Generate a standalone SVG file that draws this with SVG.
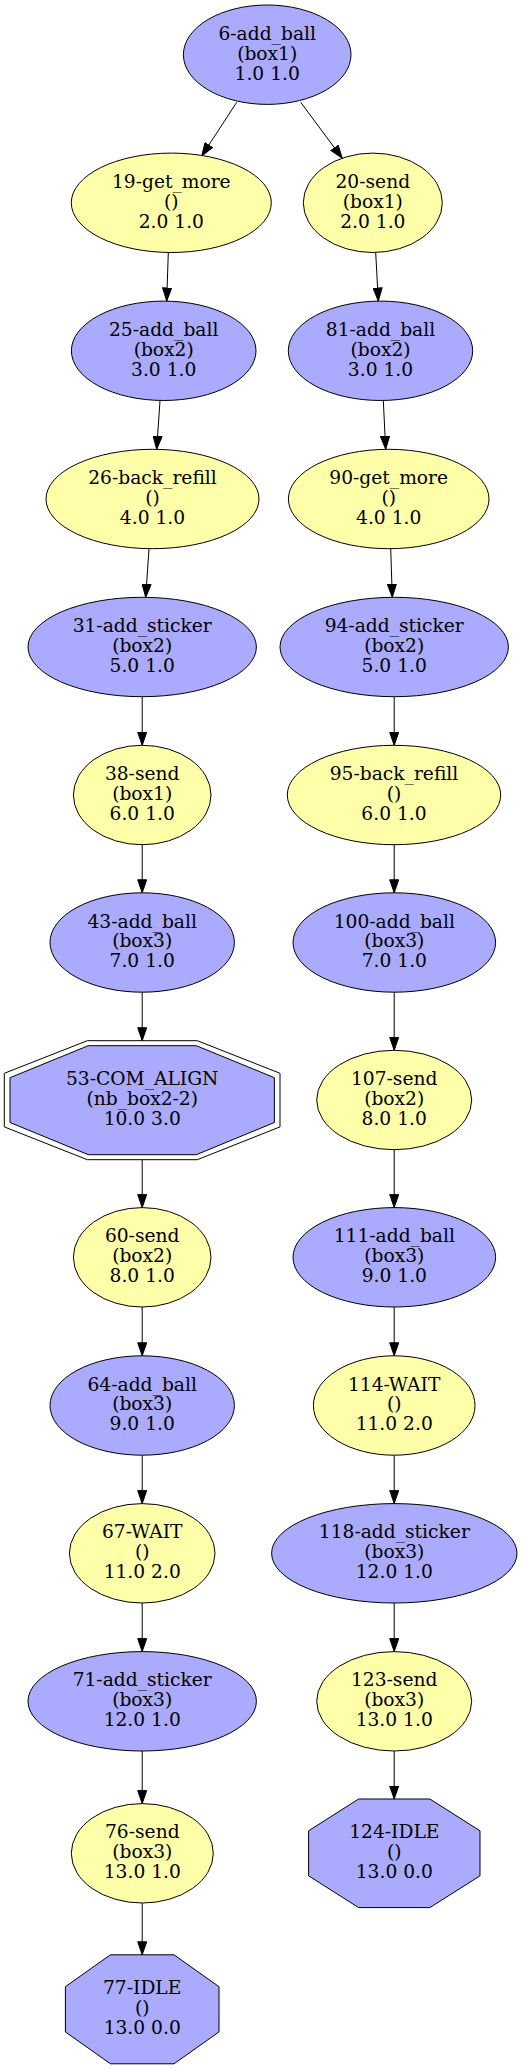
<svg xmlns="http://www.w3.org/2000/svg" width="522" height="2069" viewBox="0 0 522 2069">
<style>
.b{fill:#aaaaff;stroke:#000;stroke-width:1}
.y{fill:#ffffaa;stroke:#000;stroke-width:1}
.o{fill:none;stroke:#000;stroke-width:1}
text{font-family:"DejaVu Serif","Liberation Serif",serif;font-size:18.67px;text-anchor:middle;fill:#000}
.e line{stroke:#000;stroke-width:1;marker-end:url(#ah)}
</style>
<defs>
<marker id="ah" viewBox="0 0 14 10" refX="13.5" refY="5" markerWidth="14" markerHeight="10" markerUnits="userSpaceOnUse" orient="auto">
<path d="M0.5,0.5 L13.5,5 L0.5,9.5 Z" fill="#000" stroke="#000" stroke-width="1"/>
</marker>
</defs>
<rect width="522" height="2069" fill="#fff"/>
<g id="edges" class="e">
<line x1="236.7" y1="102.3" x2="201.7" y2="156"/>
<line x1="300.7" y1="102.3" x2="342.3" y2="158.3"/>
<line x1="168.3" y1="252.5" x2="166.7" y2="301"/>
<line x1="375.7" y1="252.5" x2="378.3" y2="301"/>
<line x1="160" y1="400.5" x2="156.7" y2="449.3"/>
<line x1="383.3" y1="400.5" x2="385.7" y2="449.3"/>
<line x1="149" y1="548.7" x2="145.7" y2="597.3"/>
<line x1="390.7" y1="548.7" x2="392.3" y2="597.3"/>
<line x1="142.2" y1="696.7" x2="142.2" y2="745.3"/>
<line x1="394.2" y1="696.7" x2="394.2" y2="745.3"/>
<line x1="142.2" y1="844.7" x2="142.2" y2="892.8"/>
<line x1="394.2" y1="844.7" x2="394.2" y2="892.8"/>
<line x1="142.2" y1="992.2" x2="142.2" y2="1040.7"/>
<line x1="394.2" y1="992.2" x2="394.2" y2="1050.3"/>
<line x1="142.2" y1="1159.7" x2="142.2" y2="1207.6"/>
<line x1="394.2" y1="1149.7" x2="394.2" y2="1207.6"/>
<line x1="142.2" y1="1307" x2="142.2" y2="1355.8"/>
<line x1="394.2" y1="1307" x2="394.2" y2="1355.8"/>
<line x1="142.2" y1="1455.2" x2="142.2" y2="1503.6"/>
<line x1="394.2" y1="1455.2" x2="394.2" y2="1503.6"/>
<line x1="142.2" y1="1603" x2="142.2" y2="1651.6"/>
<line x1="394.2" y1="1603" x2="394.2" y2="1651.6"/>
<line x1="142.2" y1="1751" x2="142.2" y2="1803.6"/>
<line x1="394.2" y1="1751" x2="394.2" y2="1799"/>
<line x1="142.2" y1="1903" x2="142.2" y2="1954.8"/>
</g>
<g id="n6"><ellipse class="b" cx="267.2" cy="54.7" rx="83.8" ry="49.7"/><text x="267.2" y="39.7">6-add_ball</text><text x="267.2" y="59.5">(box1)</text><text x="267.2" y="79.5">1.0 1.0</text></g>
<g id="n19"><ellipse class="y" cx="171.3" cy="202.8" rx="100" ry="49.7"/><text x="171.3" y="187.8">19-get_more</text><text x="171.3" y="207.6">()</text><text x="171.3" y="227.6">2.0 1.0</text></g>
<g id="n20"><ellipse class="y" cx="372.8" cy="202.8" rx="69.5" ry="49.7"/><text x="372.8" y="187.8">20-send</text><text x="372.8" y="207.6">(box1)</text><text x="372.8" y="227.6">2.0 1.0</text></g>
<g id="n25"><ellipse class="b" cx="163.7" cy="350.8" rx="92.3" ry="49.7"/><text x="163.7" y="335.8">25-add_ball</text><text x="163.7" y="355.6">(box2)</text><text x="163.7" y="375.6">3.0 1.0</text></g>
<g id="n81"><ellipse class="b" cx="380.5" cy="350.8" rx="92.2" ry="49.7"/><text x="380.5" y="335.8">81-add_ball</text><text x="380.5" y="355.6">(box2)</text><text x="380.5" y="375.6">3.0 1.0</text></g>
<g id="n26"><ellipse class="y" cx="152.5" cy="499" rx="106.5" ry="49.7"/><text x="152.5" y="484">26-back_refill</text><text x="152.5" y="503.8">()</text><text x="152.5" y="523.8">4.0 1.0</text></g>
<g id="n90"><ellipse class="y" cx="388.7" cy="499" rx="100.3" ry="49.7"/><text x="388.7" y="484">90-get_more</text><text x="388.7" y="503.8">()</text><text x="388.7" y="523.8">4.0 1.0</text></g>
<g id="n31"><ellipse class="b" cx="142.2" cy="647" rx="114.2" ry="49.7"/><text x="142.2" y="632">31-add_sticker</text><text x="142.2" y="651.8">(box2)</text><text x="142.2" y="671.8">5.0 1.0</text></g>
<g id="n94"><ellipse class="b" cx="394.2" cy="647" rx="114.2" ry="49.7"/><text x="394.2" y="632">94-add_sticker</text><text x="394.2" y="651.8">(box2)</text><text x="394.2" y="671.8">5.0 1.0</text></g>
<g id="n38"><ellipse class="y" cx="142.2" cy="795" rx="68.8" ry="49.7"/><text x="142.2" y="780">38-send</text><text x="142.2" y="799.8">(box1)</text><text x="142.2" y="819.8">6.0 1.0</text></g>
<g id="n95"><ellipse class="y" cx="394" cy="795" rx="106.7" ry="49.7"/><text x="394" y="780">95-back_refill</text><text x="394" y="799.8">()</text><text x="394" y="819.8">6.0 1.0</text></g>
<g id="n43"><ellipse class="b" cx="142.2" cy="942.5" rx="92.2" ry="49.7"/><text x="142.2" y="927.5">43-add_ball</text><text x="142.2" y="947.3">(box3)</text><text x="142.2" y="967.3">7.0 1.0</text></g>
<g id="n100"><ellipse class="b" cx="394.3" cy="942.5" rx="101.3" ry="49.7"/><text x="394.3" y="927.5">100-add_ball</text><text x="394.3" y="947.3">(box3)</text><text x="394.3" y="967.3">7.0 1.0</text></g>
<g id="n53"><polygon class="b" points="10,1077.7 88.3,1045.7 196.3,1045.7 274.4,1077.7 274.4,1122.5 196.3,1154.7 88.3,1154.7 10,1122.5"/><polygon class="o" points="4.3,1073.3 87.3,1040.7 197.3,1040.7 280,1073.3 280,1126.9 197.3,1159.7 87.3,1159.7 4.3,1126.9"/><text x="142.2" y="1085.2">53-COM_ALIGN</text><text x="142.2" y="1105">(nb_box2-2)</text><text x="142.2" y="1125">10.0 3.0</text></g>
<g id="n107"><ellipse class="y" cx="394.2" cy="1100" rx="77.5" ry="49.7"/><text x="394.2" y="1085">107-send</text><text x="394.2" y="1104.8">(box2)</text><text x="394.2" y="1124.8">8.0 1.0</text></g>
<g id="n60"><ellipse class="y" cx="142.2" cy="1257.3" rx="68.8" ry="49.7"/><text x="142.2" y="1242.3">60-send</text><text x="142.2" y="1262.1">(box2)</text><text x="142.2" y="1282.1">8.0 1.0</text></g>
<g id="n111"><ellipse class="b" cx="394.3" cy="1257.3" rx="101.3" ry="49.7"/><text x="394.3" y="1242.3">111-add_ball</text><text x="394.3" y="1262.1">(box3)</text><text x="394.3" y="1282.1">9.0 1.0</text></g>
<g id="n64"><ellipse class="b" cx="142.2" cy="1405.5" rx="92.2" ry="49.7"/><text x="142.2" y="1390.5">64-add_ball</text><text x="142.2" y="1410.3">(box3)</text><text x="142.2" y="1430.3">9.0 1.0</text></g>
<g id="n114"><ellipse class="y" cx="394.2" cy="1405.5" rx="80.8" ry="49.7"/><text x="394.2" y="1390.5">114-WAIT</text><text x="394.2" y="1410.3">()</text><text x="394.2" y="1430.3">11.0 2.0</text></g>
<g id="n67"><ellipse class="y" cx="142.2" cy="1553.3" rx="72.8" ry="49.7"/><text x="142.2" y="1538.3">67-WAIT</text><text x="142.2" y="1558.1">()</text><text x="142.2" y="1578.1">11.0 2.0</text></g>
<g id="n118"><ellipse class="b" cx="394.3" cy="1553.3" rx="122.7" ry="49.7"/><text x="394.3" y="1538.3">118-add_sticker</text><text x="394.3" y="1558.1">(box3)</text><text x="394.3" y="1578.1">12.0 1.0</text></g>
<g id="n71"><ellipse class="b" cx="142.2" cy="1701.3" rx="114.2" ry="49.7"/><text x="142.2" y="1686.3">71-add_sticker</text><text x="142.2" y="1706.1">(box3)</text><text x="142.2" y="1726.1">12.0 1.0</text></g>
<g id="n123"><ellipse class="y" cx="394.2" cy="1701.3" rx="77.5" ry="49.7"/><text x="394.2" y="1686.3">123-send</text><text x="394.2" y="1706.1">(box3)</text><text x="394.2" y="1726.1">13.0 1.0</text></g>
<g id="n76"><ellipse class="y" cx="142.3" cy="1853.3" rx="71" ry="49.7"/><text x="142.3" y="1838.3">76-send</text><text x="142.3" y="1858.1">(box3)</text><text x="142.3" y="1878.1">13.0 1.0</text></g>
<g id="n124"><polygon class="b" points="308.6,1830.8 358.6,1799 429.9,1799 480,1830.8 480,1875.8 429.9,1907.6 358.6,1907.6 308.6,1875.8"/><text x="394.3" y="1838.3">124-IDLE</text><text x="394.3" y="1858.1">()</text><text x="394.3" y="1878.1">13.0 0.0</text></g>
<g id="n77"><polygon class="b" points="65.4,1986.7 110.4,1954.8 174,1954.8 219,1986.7 219,2031.9 174,2063.8 110.4,2063.8 65.4,2031.9"/><text x="142.2" y="1994.3">77-IDLE</text><text x="142.2" y="2014.1">()</text><text x="142.2" y="2034.1">13.0 0.0</text></g>
</svg>
